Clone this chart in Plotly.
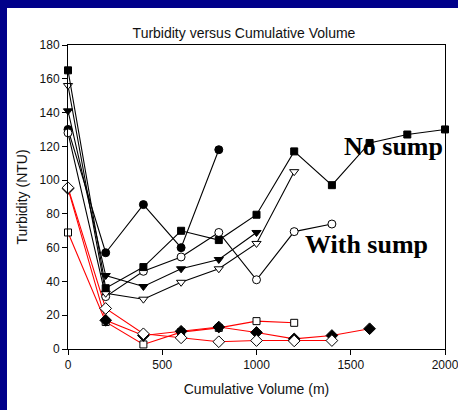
import plotly.graph_objects as go

# ---- data ----
vol_sq = [0, 200, 400, 600, 800, 1000, 1200, 1400, 1600, 1800, 2000]
turb_sq = [165, 36, 48.5, 70, 64.5, 79.5, 117, 97, 122, 127, 130]

vol_fc = [0, 200, 400, 600, 800]
turb_fc = [130, 57, 85.5, 60, 118]

vol_oc = [0, 200, 400, 600, 800, 1000, 1200, 1400]
turb_oc = [128, 31, 46, 54.5, 69, 41, 69.5, 74]

vol_ft = [0, 200, 400, 600, 800, 1000]
turb_ft = [141, 43.5, 37, 47.5, 53, 69]

vol_ot = [0, 200, 400, 600, 800, 1000, 1200]
turb_ot = [156, 33, 29.5, 39.5, 47.5, 62.5, 105]

vol_osq = [0, 200, 400, 600, 800, 1000, 1200]
turb_osq = [69, 16, 2.7, 10, 12.5, 16.5, 15.5]

vol_fd = [0, 200, 400, 600, 800, 1000, 1200, 1400, 1600]
turb_fd = [95, 17, 8, 10.5, 13, 9.8, 6, 8, 12]

vol_od = [0, 200, 400, 600, 800, 1000, 1200, 1400]
turb_od = [95.5, 24, 9, 6.6, 4.3, 5, 4.8, 5]

x_ticks = [0, 500, 1000, 1500, 2000]
y_ticks = [0, 20, 40, 60, 80, 100, 120, 140, 160, 180]

title_text = "Turbidity versus Cumulative Volume"
x_title = "Cumulative Volume (m)"
y_title = "Turbidity (NTU)"
label_no = "No sump"
label_with = "With sump"

fig = go.Figure()

def add(x, y, color, symbol, filled, size=8):
    fig.add_trace(go.Scatter(
        x=x, y=y, mode="lines+markers",
        line=dict(color=color, width=1.1),
        marker=dict(symbol=symbol, size=size,
                    color="black" if filled else "white",
                    line=dict(color="black", width=1)),
        cliponaxis=False, showlegend=False))

# red series (with sump)
add(vol_osq, turb_osq, "#FF0000", "square", False, 7)
add(vol_fd, turb_fd, "#FF0000", "diamond", True, 9)
add(vol_od, turb_od, "#FF0000", "diamond", False, 9)
# black series (no sump)
add(vol_fc, turb_fc, "black", "circle", True, 8)
add(vol_oc, turb_oc, "black", "circle", False, 8)
add(vol_ft, turb_ft, "black", "triangle-down", True, 8)
add(vol_ot, turb_ot, "black", "triangle-down", False, 8)
add(vol_sq, turb_sq, "black", "square", True, 7)

fig.add_annotation(x=1729, y=120, text="<b>" + label_no + "</b>", showarrow=False,
                   xanchor="center", yanchor="middle",
                   font=dict(family="Liberation Serif", size=26, color="black"))
fig.add_annotation(x=1586, y=62, text="<b>" + label_with + "</b>", showarrow=False,
                   xanchor="center", yanchor="middle",
                   font=dict(family="Liberation Serif", size=26, color="black"))

# slide background: dark blue strips at left and top, white elsewhere
L, T, W, H = 68, 45, 377, 304.5
blue = "#00008A"
def px_rect(x0, x1, y0, y1, color):
    fig.add_shape(type="rect", xref="paper", yref="paper", layer="below",
                  x0=(x0 - L) / W, x1=(x1 - L) / W,
                  y0=(T + H - y1) / H, y1=(T + H - y0) / H,
                  fillcolor=color, line=dict(width=0))

px_rect(7, 470, 8, 420, "white")
px_rect(-5, 7, -5, 420, blue)
px_rect(-5, 470, -5, 8, blue)

fig.update_layout(
    width=458, height=410,
    margin=dict(l=L, r=458 - L - W, t=T, b=410 - T - H, autoexpand=False),
    paper_bgcolor="white", plot_bgcolor="white",
    font=dict(family="Liberation Sans", color="#111111"),
    title=dict(text=title_text, x=244 / 458, xanchor="center",
               y=1 - 33 / 410, yanchor="middle",
               font=dict(size=14, color="#111111")),
)
fig.update_xaxes(range=[0, 2000], tickvals=x_ticks, ticks="outside", ticklen=5,
                 tickcolor="black", linecolor="black", linewidth=1, mirror=True,
                 showline=True, showgrid=False, zeroline=False,
                 ticklabeloverflow="allow", automargin=False,
                 tickfont=dict(size=12, color="#111111"),
                 title=dict(text=x_title, font=dict(size=14, color="#111111"), standoff=12))
fig.update_yaxes(range=[0, 180], tickvals=y_ticks, ticks="outside", ticklen=5,
                 tickcolor="black", linecolor="black", linewidth=1, mirror=True,
                 showline=True, showgrid=False, zeroline=False, automargin=False,
                 tickfont=dict(size=12, color="#111111"),
                 title=dict(text=y_title, font=dict(size=14, color="#111111"), standoff=8))

fig.write_html("out.html")
